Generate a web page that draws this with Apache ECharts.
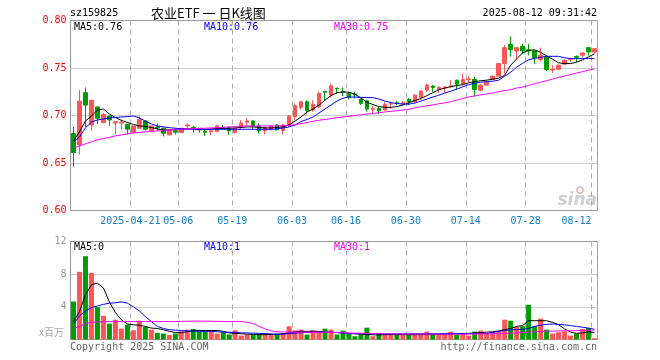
<!DOCTYPE html>
<html><head><meta charset="utf-8">
<script src="https://cdn.jsdelivr.net/npm/echarts@6/dist/echarts.min.js"></script>
<style>html,body{margin:0;padding:0;background:#fff}#c{width:660px;height:360px}</style>
</head><body><div id="c"></div>
<script>
const dates = [
'2025-04-07','2025-04-08','2025-04-09','2025-04-10','2025-04-11','2025-04-14','2025-04-15','2025-04-16','2025-04-17','2025-04-18',
'2025-04-21','2025-04-22','2025-04-23','2025-04-24','2025-04-25','2025-04-28','2025-04-29','2025-04-30',
'2025-05-06','2025-05-07','2025-05-08','2025-05-09','2025-05-12','2025-05-13','2025-05-14','2025-05-15','2025-05-16',
'2025-05-19','2025-05-20','2025-05-21','2025-05-22','2025-05-23','2025-05-26','2025-05-27','2025-05-28','2025-05-29','2025-05-30',
'2025-06-03','2025-06-04','2025-06-05','2025-06-06','2025-06-09','2025-06-10','2025-06-11','2025-06-12','2025-06-13',
'2025-06-16','2025-06-17','2025-06-18','2025-06-19','2025-06-20','2025-06-23','2025-06-24','2025-06-25','2025-06-26','2025-06-27',
'2025-06-30','2025-07-01','2025-07-02','2025-07-03','2025-07-04','2025-07-07','2025-07-08','2025-07-09','2025-07-10','2025-07-11',
'2025-07-14','2025-07-15','2025-07-16','2025-07-17','2025-07-18','2025-07-21','2025-07-22','2025-07-23','2025-07-24','2025-07-25',
'2025-07-28','2025-07-29','2025-07-30','2025-07-31','2025-08-01','2025-08-04','2025-08-05','2025-08-06','2025-08-07','2025-08-08',
'2025-08-11','2025-08-12'];

const opens = [0.681,0.669,0.724,0.690,0.709,0.6925,0.6995,0.692,0.692,0.6908,
0.6824,0.6866,0.6943,0.6842,0.688,0.6866,0.6796,0.684,0.682,0.689,
0.6876,0.6866,0.6837,0.683,0.683,0.6876,0.6873,0.6821,0.6877,0.6929,
0.6943,0.689,0.684,0.6856,0.690,0.684,0.690,0.6988,0.7086,0.7145,
0.7058,0.7092,0.7255,0.7215,0.7288,0.7253,0.7232,0.7225,0.717,0.7155,
0.7065,0.7075,0.7058,0.712,0.7135,0.7125,0.7172,0.7145,0.7191,0.7267,
0.731,0.7277,0.7290,0.7301,0.7371,0.733,0.7375,0.7379,0.7267,0.732,
0.7379,0.7414,0.7547,0.7749,0.7679,0.7728,0.7693,0.7679,0.759,0.7623,
0.748,0.7487,0.754,0.7588,0.762,0.7634,0.7714,0.7668];
const closes = [0.661,0.715,0.711,0.716,0.697,0.701,0.6953,0.6935,0.693,0.6856,
0.689,0.696,0.6856,0.689,0.687,0.6813,0.684,0.6825,0.6866,0.690,
0.6866,0.6848,0.6824,0.684,0.689,0.6866,0.6838,0.6866,0.6918,0.6943,
0.689,0.684,0.6873,0.689,0.685,0.690,0.6995,0.7103,0.7145,0.705,
0.7117,0.7232,0.7245,0.7312,0.728,0.7245,0.719,0.7215,0.7128,0.7068,
0.7075,0.705,0.7117,0.7125,0.7125,0.7135,0.7147,0.7215,0.7257,0.732,
0.7295,0.7295,0.7298,0.7312,0.733,0.7379,0.7385,0.7275,0.732,0.7354,
0.7414,0.7547,0.7714,0.7693,0.7714,0.7679,0.7679,0.7609,0.7634,0.7484,
0.7487,0.7529,0.7581,0.7598,0.7612,0.7658,0.7668,0.7703];
const lows = [0.646,0.659,0.688,0.684,0.691,0.692,0.689,0.680,0.685,0.680,
0.681,0.6866,0.684,0.6842,0.684,0.678,0.679,0.680,0.682,0.685,
0.682,0.682,0.6785,0.6796,0.683,0.6848,0.6796,0.681,0.686,0.6887,
0.686,0.681,0.680,0.684,0.684,0.680,0.688,0.6953,0.706,0.702,
0.704,0.708,0.7155,0.719,0.7225,0.7205,0.717,0.718,0.711,0.704,
0.702,0.7015,0.705,0.707,0.711,0.7105,0.711,0.713,0.717,0.725,
0.725,0.7235,0.7235,0.7294,0.7274,0.732,0.7343,0.7198,0.726,0.7315,
0.737,0.7414,0.7442,0.762,0.7589,0.765,0.7633,0.754,0.757,0.747,
0.7448,0.748,0.7535,0.7563,0.7563,0.7608,0.763,0.766];
const highs = [0.688,0.727,0.7295,0.716,0.709,0.703,0.6995,0.6935,0.696,0.6908,
0.689,0.6988,0.6943,0.689,0.6915,0.6866,0.684,0.6865,0.6866,0.6915,
0.689,0.6866,0.6866,0.6855,0.690,0.690,0.688,0.687,0.6953,0.6972,
0.695,0.6915,0.688,0.690,0.691,0.691,0.700,0.7128,0.715,0.716,
0.716,0.725,0.7255,0.7335,0.729,0.7296,0.7245,0.725,0.7175,0.716,
0.710,0.709,0.7145,0.7145,0.715,0.7155,0.7182,0.722,0.726,0.7335,
0.732,0.7311,0.7311,0.7372,0.7379,0.7442,0.7414,0.7407,0.733,0.736,
0.742,0.755,0.7739,0.7832,0.772,0.7756,0.7756,0.7685,0.7714,0.763,
0.7529,0.7535,0.759,0.7609,0.7633,0.7665,0.7714,0.7703];

const ma5 = [0.6733,0.6827,0.6942,0.6995,0.7057,0.7068,0.7016,0.6979,0.6948,0.6927,
0.6906,0.6890,0.6885,0.6874,0.6859,0.6848,0.6848,0.6853,0.6855,0.6859,
0.6859,0.6855,0.6853,0.6859,0.6862,0.6864,0.6866,0.6869,0.6874,0.6880,
0.6880,0.6874,0.6869,0.6869,0.6874,0.6880,0.6900,0.6942,0.6984,0.7037,
0.7068,0.7110,0.7162,0.7209,0.7240,0.7249,0.7245,0.7225,0.7183,0.7141,
0.7115,0.7094,0.7086,0.7086,0.7094,0.7110,0.7136,0.7157,0.7178,0.7209,
0.7240,0.7272,0.7288,0.7304,0.7314,0.7325,0.7345,0.7356,0.7366,0.7372,
0.7382,0.7393,0.7424,0.7529,0.7597,0.7659,0.7686,0.7691,0.7665,0.7628,
0.7592,0.7555,0.7547,0.7547,0.7560,0.7586,0.7618,0.7649];
const ma10 = [0.6722,0.6775,0.6869,0.6932,0.6953,0.6963,0.6974,0.6979,0.6984,0.6989,
0.6995,0.6974,0.6942,0.6911,0.6890,0.6880,0.6872,0.6866,0.6861,0.6859,
0.6855,0.6855,0.6855,0.6855,0.6855,0.6855,0.6855,0.6855,0.6855,0.6855,
0.6855,0.6855,0.6855,0.6855,0.6859,0.6869,0.6880,0.6900,0.6937,0.6958,
0.6984,0.7026,0.7068,0.7110,0.7152,0.7183,0.7194,0.7194,0.7190,0.7190,
0.7188,0.7173,0.7152,0.7136,0.7126,0.7120,0.7120,0.7131,0.7152,0.7173,
0.7194,0.7214,0.7235,0.7256,0.7277,0.7303,0.7324,0.7340,0.7350,0.7356,
0.7361,0.7372,0.7413,0.7455,0.7508,0.7550,0.7586,0.7602,0.7612,0.7623,
0.7623,0.7623,0.7607,0.7599,0.7599,0.7599,0.7599,0.7599];
const ma30 = [0.6654,0.6681,0.6702,0.6723,0.6743,0.6759,0.6770,0.6785,0.6796,0.6806,
0.6817,0.6822,0.6827,0.6832,0.6838,0.6843,0.6848,0.6851,0.6855,0.6859,
0.6862,0.6864,0.6867,0.6869,0.6872,0.6876,0.6880,0.6883,0.6887,0.6890,
0.6890,0.6890,0.6890,0.6890,0.6890,0.6893,0.6897,0.6904,0.6914,0.6927,
0.6939,0.6950,0.6958,0.6967,0.6977,0.6984,0.6992,0.7000,0.7007,0.7016,
0.7021,0.7029,0.7037,0.7044,0.7050,0.7057,0.7065,0.7081,0.7091,0.7102,
0.7112,0.7123,0.7133,0.7146,0.7162,0.7178,0.7196,0.7206,0.7217,0.7227,
0.7237,0.7251,0.7262,0.7272,0.7288,0.7300,0.7316,0.7335,0.7350,0.7366,
0.7384,0.7401,0.7415,0.7431,0.7447,0.7461,0.7476,0.7492];

// volume, millions
const volumes = [4.65,8.28,10.2,8.16,3.96,2.9,1.94,2.42,1.33,1.82,
1.13,2.3,1.54,1.21,0.81,0.73,0.57,0.73,1.0,1.21,
1.29,1.0,1.0,1.0,0.73,0.89,0.61,1.13,0.48,0.61,
0.61,0.61,0.57,0.6,0.7,0.8,1.62,1.13,1.21,0.6,
1.13,1.0,1.33,1.21,0.61,1.09,0.81,0.4,0.61,1.45,
0.4,0.81,0.6,0.6,0.6,0.6,0.6,0.6,0.6,0.97,
0.6,0.6,0.6,0.97,0.6,0.81,0.48,0.97,1.09,0.81,
0.81,0.97,2.42,2.3,1.54,1.62,4.24,1.62,2.55,1.21,
0.73,0.89,1.0,0.48,0.73,1.29,1.41,0.16];
const vma5 = [2.2,3.4,5.5,6.7,6.9,6.3,4.6,3.3,2.4,1.9,
1.8,1.75,1.6,1.4,1.35,1.2,1.0,0.85,0.85,0.95,
1.05,1.1,1.1,1.1,1.1,1.0,0.8,0.75,0.7,0.65,
0.62,0.6,0.6,0.62,0.65,0.7,0.8,0.9,1.0,1.0,
1.0,1.0,0.9,0.88,0.85,0.8,0.75,0.7,0.65,0.6,
0.58,0.57,0.6,0.6,0.6,0.6,0.6,0.6,0.6,0.6,
0.6,0.62,0.65,0.7,0.7,0.72,0.75,0.8,0.85,0.9,
0.95,1.05,1.2,1.35,1.6,1.7,2.3,2.3,2.3,2.3,
2.1,1.8,1.3,0.9,0.75,0.8,0.95,0.85];
const vma10 = [1.9,2.9,3.5,3.9,4.1,4.3,4.45,4.5,4.6,4.45,
4.0,3.5,2.8,2.2,1.6,1.35,1.2,1.15,1.1,1.05,
1.05,1.0,1.0,1.0,0.95,0.9,0.9,0.85,0.82,0.8,
0.78,0.75,0.72,0.68,0.62,0.65,0.73,0.78,0.82,0.87,
0.9,0.9,0.9,0.88,0.85,0.8,0.73,0.72,0.7,0.7,
0.7,0.69,0.69,0.69,0.69,0.69,0.69,0.7,0.7,0.7,
0.7,0.71,0.72,0.72,0.73,0.73,0.73,0.73,0.73,0.73,
0.85,1.0,1.1,1.2,1.2,1.25,1.35,1.6,1.75,1.85,
1.9,1.85,1.8,1.7,1.6,1.5,1.4,1.25];
const vma30 = [1.35,1.6,1.95,2.1,2.15,2.18,2.2,2.2,2.2,2.2,
2.2,2.2,2.2,2.2,2.2,2.2,2.2,2.2,2.22,2.24,
2.25,2.26,2.25,2.24,2.22,2.2,2.2,2.2,2.2,2.1,
1.95,1.6,1.3,1.05,0.95,0.93,0.92,0.9,0.9,0.9,
0.9,0.9,0.89,0.87,0.85,0.83,0.8,0.78,0.76,0.75,
0.73,0.72,0.71,0.7,0.69,0.68,0.68,0.67,0.67,0.66,
0.66,0.65,0.65,0.65,0.65,0.65,0.66,0.67,0.69,0.7,
0.71,0.72,0.73,0.78,0.82,0.85,0.89,0.95,1.0,1.02,
1.03,1.05,1.06,1.07,1.08,1.1,1.12,1.13];

const labelIdx = [10,18,27,37,46,56,66,76,87];
const priceLegend = ['MA5:0.76','MA10:0.76','MA30:0.75'];
const volLegend = ['MA5:0','MA10:1','MA30:1'];

const RED = '#ff5555', GREEN = '#009c00';
const MONO = '"DejaVu Sans Mono", monospace';
const isLbl = i => labelIdx.indexOf(i) >= 0;

const candle = dates.map((d, i) => [opens[i], closes[i], lows[i], highs[i]]);
const volData = volumes.map((v, i) => ({ value: v, itemStyle: { color: closes[i] >= opens[i] ? RED : GREEN } }));

const splitV = { show: true, interval: (i) => isLbl(i), lineStyle: { color: '#aaa', width: 1, type: [5, 4] } };

const chart = echarts.init(document.getElementById('c'), null, { renderer: 'canvas' });
const lineS = (name, data, color, xi) => ({
  name, type: 'line', data, xAxisIndex: xi, yAxisIndex: xi, symbol: 'none', showSymbol: false,
  silent: true, lineStyle: { width: 1, color }, itemStyle: { color }, z: 5
});
const txt = (x, y, text, fill, font, align) => ({
  type: 'text', x, y, silent: true,
  style: { text, fill, font, align: align || 'left', verticalAlign: 'middle' }
});

chart.setOption({
  animation: false,
  grid: [
    { left: 70.5, top: 20.5, width: 527, height: 190, show: true, borderColor: '#999', borderWidth: 1, backgroundColor: 'transparent' },
    { left: 70.5, top: 241.5, width: 527, height: 98, show: true, borderColor: '#999', borderWidth: 1, backgroundColor: 'transparent' }
  ],
  xAxis: [
    { type: 'category', gridIndex: 0, data: dates, boundaryGap: true,
      axisLine: { show: false }, axisTick: { show: false },
      axisLabel: {
        interval: (i) => isLbl(i), fontFamily: MONO, fontSize: 10, color: '#1080d0', margin: 6,
        alignMaxLabel: 'right',
        formatter: (v, i) => {
          const t = (i === labelIdx[0]) ? v : v.slice(5);
          return i === labelIdx[labelIdx.length - 1] ? '{r|' + t + '}' : '{c|' + t + '}';
        },
        rich: {
          c: { fontFamily: MONO, fontSize: 10, color: '#1080d0', padding: [0, 6, 0, 0] },
          r: { fontFamily: MONO, fontSize: 10, color: '#1080d0', padding: [0, 3, 0, 0] }
        }
      },
      splitLine: splitV },
    { type: 'category', gridIndex: 1, data: dates, boundaryGap: true,
      axisLine: { show: false }, axisTick: { show: false }, axisLabel: { show: false },
      splitLine: splitV }
  ],
  yAxis: [
    { type: 'value', gridIndex: 0, min: 0.6, max: 0.8, interval: 0.05, scale: false,
      axisLine: { show: false }, axisTick: { show: false },
      axisLabel: { color: '#ff0000', fontFamily: MONO, fontSize: 10, margin: 4, formatter: v => v.toFixed(2) },
      splitLine: { show: true, lineStyle: { color: '#999', width: 1, type: 'dotted' } } },
    { type: 'value', gridIndex: 1, min: 0, max: 12, interval: 4,
      axisLine: { show: false }, axisTick: { show: false },
      axisLabel: { color: '#999', fontFamily: MONO, fontSize: 10, margin: 4, formatter: v => v === 0 ? '' : String(v) },
      splitLine: { show: true, lineStyle: { color: '#999', width: 1, type: 'dotted' } } }
  ],
  series: [
    { name: 'K', type: 'candlestick', data: candle, xAxisIndex: 0, yAxisIndex: 0, barWidth: 4, silent: true,
      itemStyle: { color: RED, color0: GREEN, borderColor: RED, borderColor0: GREEN, borderWidth: 1 } },
    lineS('MA5', ma5, '#000000', 0),
    lineS('MA10', ma10, '#0000ff', 0),
    lineS('MA30', ma30, '#ff00ff', 0),
    { name: 'VOL', type: 'bar', data: volData, xAxisIndex: 1, yAxisIndex: 1, barWidth: 5, silent: true },
    lineS('VMA5', vma5, '#000000', 1),
    lineS('VMA10', vma10, '#0000ff', 1),
    lineS('VMA30', vma30, '#ff00ff', 1)
  ],
  graphic: [
    txt(70, 13, 'sz159825', '#000', '10px ' + MONO),
    txt(151, 13, '农业ETF 一 日K线图', '#000', '13px "Noto Sans CJK SC"'),
    txt(597, 13, '2025-08-12 09:31:42', '#000', '10px ' + MONO, 'right'),
    txt(74, 27, priceLegend[0], '#000', '10px ' + MONO),
    txt(204, 27, priceLegend[1], '#0000ff', '10px ' + MONO),
    txt(334, 27, priceLegend[2], '#ff00ff', '10px ' + MONO),
    txt(74, 247, volLegend[0], '#000', '10px ' + MONO),
    txt(204, 247, volLegend[1], '#0000ff', '10px ' + MONO),
    txt(334, 247, volLegend[2], '#ff00ff', '10px ' + MONO),
    txt(64, 332, 'x百万', '#aaa', '10px "Noto Sans CJK SC"', 'right'),
    txt(70, 347, 'Copyright 2025 SINA.COM', '#666', '10px ' + MONO),
    txt(597, 347, 'http://finance.sina.com.cn', '#666', '10px ' + MONO, 'right'),
    txt(597, 201, 'sina', '#cfcfcf', 'italic bold 17px "DejaVu Sans"', 'right'),
    { type: 'circle', silent: true, shape: { cx: 580, cy: 190, r: 3 }, style: { fill: 'none', stroke: '#e8b0b0', lineWidth: 1.5 } }
  ]
});
</script></body></html>
